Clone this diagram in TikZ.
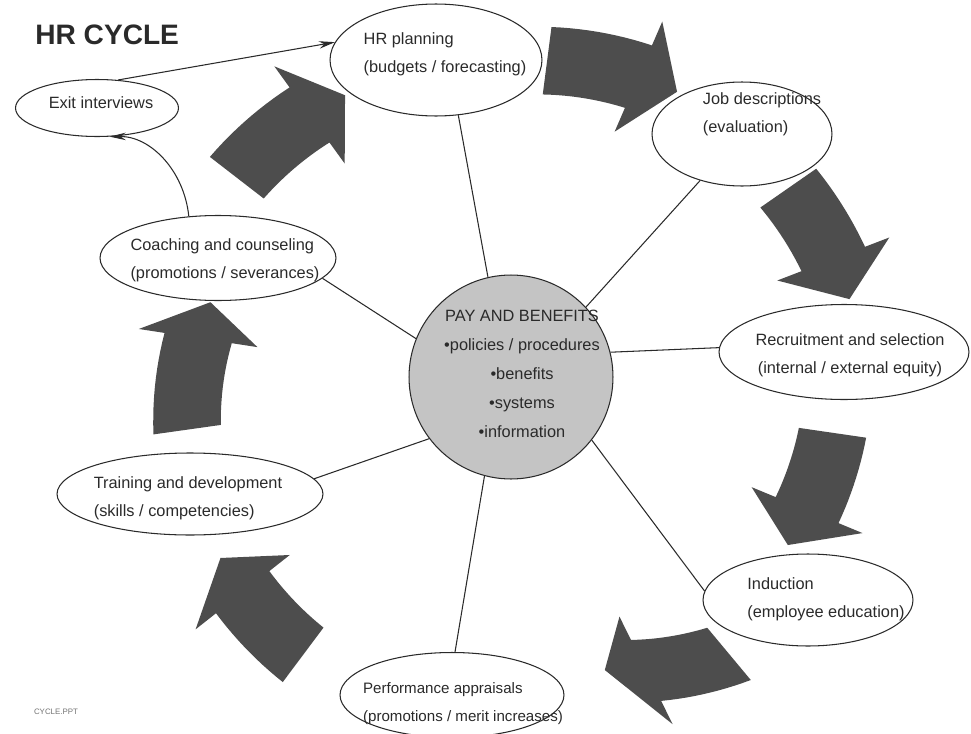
\documentclass[tikz,border=0pt]{standalone}
\usepackage{fontspec}
\setmainfont{Liberation Sans}
\usetikzlibrary{arrows.meta,shapes.geometric}

\definecolor{arrowgray}{HTML}{4D4D4D}
\definecolor{hubgray}{HTML}{C4C4C4}
\definecolor{inkgray}{HTML}{2A2A2A}

% curved block arrow: tail angle, tip angle, tail radius, tip radius
\newcommand{\cyclearrow}[4]{%
  \pgfmathsetmacro{\arTail}{#1}%
  \pgfmathsetmacro{\arTip}{#2}%
  \pgfmathsetmacro{\arRa}{#3}%
  \pgfmathsetmacro{\arRb}{#4}%
  \pgfmathsetmacro{\arHb}{\arTip-7}%
  \pgfmathsetmacro{\arRh}{\arRa+(\arRb-\arRa)*(\arHb-\arTail)/(\arTip-\arTail)}%
  \fill[blockfill]
    plot[domain=0:1, samples=12] ({\arTail+(\arHb-\arTail)*\x}:{\arRa+(\arRh-\arRa)*\x+34})
    -- ({\arHb}:{\arRh+60}) -- ({\arTip}:{\arRb}) -- ({\arHb}:{\arRh-60})
    -- plot[domain=0:1, samples=12] ({\arHb-(\arHb-\arTail)*\x}:{\arRh-(\arRh-\arRa)*\x-34})
    -- cycle;}

\begin{document}
\begin{tikzpicture}[
  x=0.02cm, y=-0.02cm, >=Stealth,
  oval/.style={draw=inkgray, ellipse, line width=0.6pt, inner sep=0pt},
  lbl/.style={font=\fontsize{9.3}{16}\selectfont, text=inkgray, align=left, inner sep=0pt},
  hub/.style={draw=inkgray, circle, fill=hubgray, line width=0.6pt, minimum size=4.08cm, inner sep=0pt},
  spoke/.style={line width=0.6pt, draw=inkgray},
  thinarrow/.style={-{Stealth[length=3.2mm,width=1.5mm]}, line width=0.6pt, draw=inkgray},
  blockfill/.style={fill=arrowgray}
]
\useasboundingbox (0,0) rectangle (971,734);

% block arrows round the cycle
\begin{scope}[shift={(505,385)}]
\cyclearrow{217.7}{241.1}{339}{331}
\cyclearrow{277.4}{300.4}{327}{340}
\cyclearrow{325.2}{346}{345}{355}
\cyclearrow{8.3}{29.5}{331}{325}
\cyclearrow{50.2}{70.7}{350}{302}
\cyclearrow{126.8}{148.7}{337}{333}
\cyclearrow{172}{195.7}{321}{306}
\end{scope}

\node[font=\bfseries\fontsize{16}{18}\selectfont, text=inkgray, anchor=west, inner sep=0pt] (title) at (35,35) {HR CYCLE};
\node[font=\fontsize{4.5}{5}\selectfont, text=black!55, inner sep=0pt] (fname) at (56,712) {CYCLE.PPT};

\node[hub] (pay) at (511,377) {};
\node[lbl, align=center, font=\fontsize{9.3}{16.5}\selectfont] (payTxt) at (522,374)
  {PAY AND BENEFITS\\•policies / procedures\\•benefits\\•systems\\•information};

\node[oval, minimum width=4.24cm, minimum height=2.24cm] (hrplan) at (436,60) {};
\node[lbl] (hrplanTxt) at (445,54) {HR planning\\(budgets / forecasting)};

\node[oval, minimum width=3.6cm, minimum height=2.08cm] (jobdesc) at (742,134) {};
\node[lbl] (jobdescTxt) at (762,114) {Job descriptions\\(evaluation)};

\node[oval, minimum width=5cm, minimum height=1.9cm] (recruit) at (844,352) {};
\node[lbl, align=center] (recruitTxt) at (850,355) {Recruitment and selection\\(internal / external equity)};

\node[oval, minimum width=4.2cm, minimum height=1.84cm] (induct) at (808,600) {};
\node[lbl] (inductTxt) at (826,599) {Induction\\(employee education)};

\node[oval, minimum width=4.48cm, minimum height=1.7cm] (perform) at (452,695) {};
\node[lbl, font=\fontsize{8.6}{16}\selectfont] (performTxt) at (463,704) {Performance appraisals\\(promotions / merit increases)};

\node[oval, minimum width=5.32cm, minimum height=1.64cm] (train) at (190,494) {};
\node[lbl] (trainTxt) at (188,498) {Training and development\\(skills / competencies)};

\node[oval, minimum width=4.72cm, minimum height=1.7cm] (coach) at (218,258) {};
\node[lbl] (coachTxt) at (225,260) {Coaching and counseling\\(promotions / severances)};

\node[oval, minimum width=3.26cm, minimum height=1.14cm] (exitiv) at (97,108) {};
\node[lbl] (exitivTxt) at (101,103) {Exit interviews};

% spokes to the hub
\draw[spoke] (hrplan.292) -- (pay.103);
\draw[spoke] (jobdesc.228) -- (pay.43);
\draw[spoke] (recruit.178) -- (pay.14);
\draw[spoke] (induct.175) -- (pay.-38);
\draw[spoke] (perform.86) -- (pay.255);
\draw[spoke] (train.7) -- (pay.217);
\draw[spoke] (coach.-11) -- (pay.158);

% exit links
\draw[thinarrow] (exitiv.53) -- (hrplan.170);
\draw[thinarrow] (coach.125) .. controls (184,170) and (150,136) .. (exitiv.-66);

\end{tikzpicture}
\end{document}
